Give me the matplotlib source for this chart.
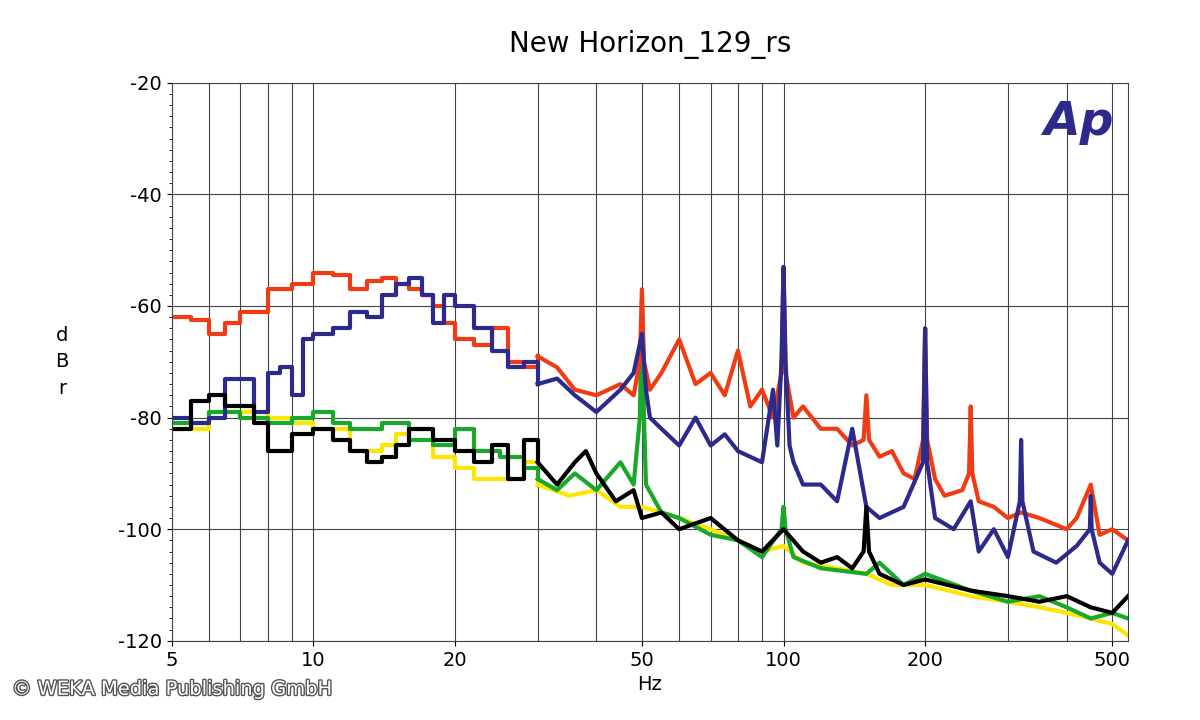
import matplotlib
matplotlib.use("Agg")
import matplotlib.pyplot as plt
import matplotlib.patheffects as pe
from matplotlib.ticker import FixedLocator, NullFormatter, MultipleLocator
plt.rcParams["axes.unicode_minus"] = False

red_f = [5,5.5,6,6.5,7,8,9,10,11,12,13,14,15,16,17,18,19,20,22,24,26,28,30,33,36,40,45,48,49.5,50,50.5,52,55,60,65,70,75,80,85,90,95,99,100,101,105,110,120,130,140,148,150,152,160,170,180,190,198,200,202,210,220,240,248,250,252,260,280,300,320,350,400,420,450,470,500,540]
red_v = [-62,-62.5,-65,-63,-61,-57,-56,-54,-54.5,-57,-55.5,-55,-56,-57,-58,-60,-63,-66,-67,-64,-70,-71,-69,-71,-75,-76,-74,-76,-70,-57,-70,-75,-72,-66,-74,-72,-76,-68,-78,-75,-80,-72,-53,-72,-80,-78,-82,-82,-85,-84,-76,-84,-87,-86,-90,-91,-84,-64,-84,-91,-94,-93,-90,-78,-90,-95,-96,-98,-97,-98,-100,-98,-92,-101,-100,-102]
blue_f = [5,5.5,6,6.5,7,7.5,8,8.5,9,9.5,10,11,12,13,14,15,16,17,18,19,20,22,24,26,28,30,33,36,40,45,48,50,51,52,55,60,65,70,75,80,90,95,97,99,100,101,103,105,110,120,130,140,150,160,180,198,200,202,210,230,250,260,280,300,318,320,322,340,380,420,448,450,452,470,500,540]
blue_v = [-80,-81,-80,-73,-73,-79,-72,-71,-76,-66,-65,-64,-61,-62,-58,-56,-55,-58,-63,-58,-60,-64,-68,-71,-70,-74,-73,-76,-79,-75,-72,-65,-75,-80,-82,-85,-80,-85,-83,-86,-88,-75,-85,-70,-53,-70,-85,-88,-92,-92,-95,-82,-96,-98,-96,-88,-64,-88,-98,-100,-95,-104,-100,-105,-95,-84,-95,-104,-106,-103,-100,-94,-100,-106,-108,-102]
yel_f = [5,6,7,8,9,10,12,14,15,16,18,20,22,25,28,30,35,40,45,50,55,60,70,80,90,100,110,130,150,170,200,250,300,350,400,450,500,540]
yel_v = [-82,-79,-79,-80,-81,-82,-86,-85,-83,-82,-87,-89,-91,-91,-88,-92,-94,-93,-96,-96,-97,-98,-100,-102,-104,-103,-106,-107,-108,-110,-110,-112,-113,-114,-115,-116,-117,-119]
grn_f = [5,6,7,8,9,10,11,12,13,14,16,18,20,22,25,28,30,33,36,40,45,48,49.5,50,50.5,51,55,60,70,80,90,99,100,101,105,120,150,160,180,200,250,300,350,400,450,500,540]
grn_v = [-81,-79,-80,-81,-80,-79,-81,-82,-82,-81,-84,-85,-82,-86,-87,-89,-91,-93,-90,-93,-88,-92,-80,-59,-80,-92,-97,-98,-101,-102,-105,-100,-96,-100,-105,-107,-108,-106,-110,-108,-111,-113,-112,-114,-116,-115,-116]
blk_f = [5,5.5,6,6.5,7,7.5,8,9,10,11,12,13,14,15,16,18,20,22,24,26,28,30,33,36,38,40,44,48,50,55,60,70,80,90,100,110,120,130,140,148,150,152,160,180,200,250,300,350,400,450,500,540]
blk_v = [-82,-77,-76,-78,-78,-81,-86,-83,-82,-84,-86,-88,-87,-85,-82,-84,-86,-88,-85,-91,-84,-88,-92,-88,-86,-90,-95,-93,-98,-97,-100,-98,-102,-104,-100,-104,-106,-105,-107,-104,-96,-104,-108,-110,-109,-111,-112,-113,-112,-114,-115,-112]

SPLIT = 30
fig = plt.figure(figsize=(12, 7.2), dpi=100)
ax = fig.add_axes([0.143, 0.11, 0.797, 0.775])
for f, v, c in [(yel_f, yel_v, "#ffe600"), (grn_f, grn_v, "#1aa82a"), (red_f, red_v, "#f03c14"),
                (blue_f, blue_v, "#2e2a8c"), (blk_f, blk_v, "#000000")]:
    lo = [i for i, x in enumerate(f) if x <= SPLIT]
    hi = [i for i, x in enumerate(f) if x >= f[lo[-1]]]
    ax.plot([f[i] for i in lo], [v[i] for i in lo], color=c, lw=3, drawstyle="steps-post")
    ax.plot([f[i] for i in hi], [v[i] for i in hi], color=c, lw=3)
ax.set_xscale("log")
ax.set_xlim(5, 540)
ax.set_ylim(-120, -20)
ticks = [5, 10, 20, 50, 100, 200, 500]
ax.xaxis.set_major_locator(FixedLocator(ticks))
ax.set_xticklabels([str(t) for t in ticks])
ax.xaxis.set_minor_locator(FixedLocator([6,7,8,9,30,40,60,70,80,90,300,400]))
ax.xaxis.set_minor_formatter(NullFormatter())
ax.yaxis.set_major_locator(MultipleLocator(20))
ax.yaxis.set_minor_locator(MultipleLocator(2))
ax.grid(True, which="both", axis="x", color="#444444", lw=0.8)
ax.grid(True, which="major", axis="y", color="#444444", lw=0.8)
ax.tick_params(labelsize=14)
ax.tick_params(which="minor", axis="x", length=0)
for s in ax.spines.values():
    s.set_color("#444444")
ax.set_title("New Horizon_129_rs", fontsize=20, pad=22)
ax.set_xlabel("Hz", fontsize=14)
ax.set_ylabel("d\nB\nr", fontsize=14, rotation=0, labelpad=40, va="center", linespacing=1.5)
ax.text(0.985, 0.97, "Ap", transform=ax.transAxes, ha="right", va="top", fontsize=34,
        fontweight="bold", fontstyle="italic", color="#2e2a8c")
fig.text(0.01, 0.035, "© WEKA Media Publishing GmbH", fontsize=14, color="white",
         path_effects=[pe.withStroke(linewidth=2, foreground="#555555")])
fig.savefig("out.png")
